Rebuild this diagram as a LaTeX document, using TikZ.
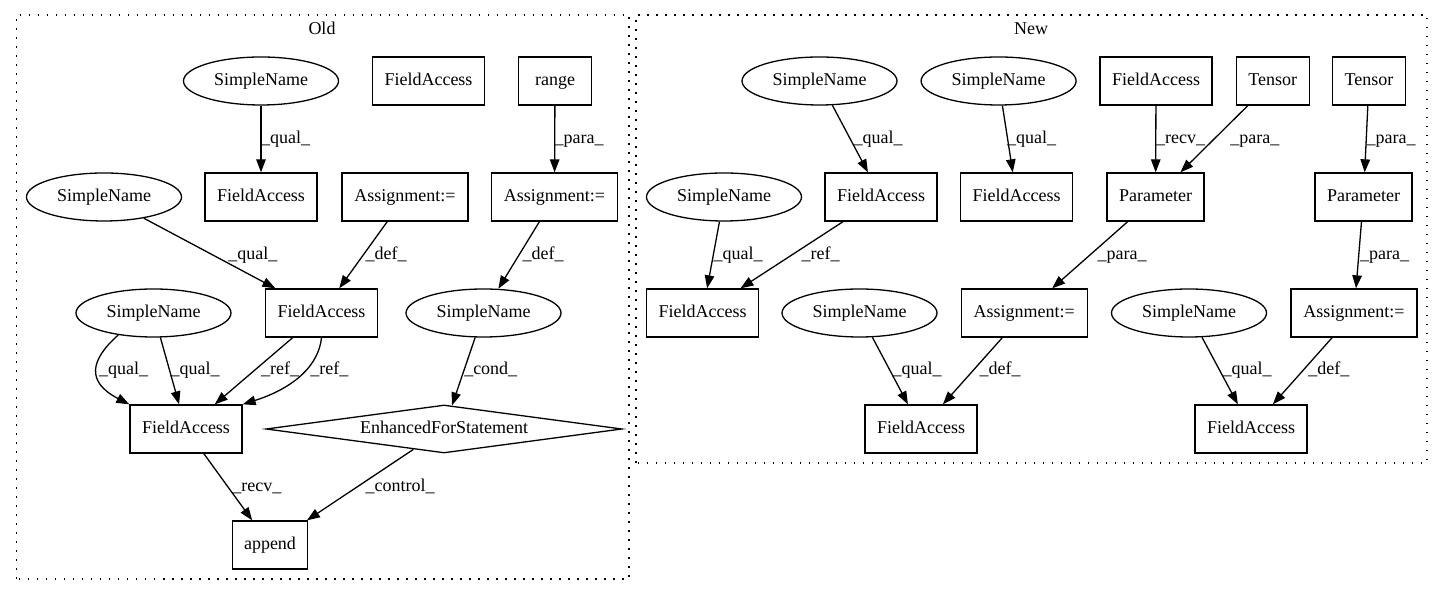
\documentclass[tikz,border=0pt]{standalone}
\usepackage{fontspec}
\setmainfont{Liberation Serif}
\usetikzlibrary{arrows.meta, shapes.geometric}

\tikzset{
  every node/.style={font=\fontsize{18}{21}\selectfont, text height=14pt, text depth=4pt, inner sep=0pt},
  box/.style={draw, line width=1.3pt, rectangle, minimum height=48pt},
  fa/.style={box, minimum width=112pt},
  asg/.style={box, minimum width=126pt},
  sname/.style={draw, line width=1.3pt, ellipse, minimum width=155pt, minimum height=48pt},
  loopcond/.style={draw, line width=1.3pt, diamond, aspect=7.4, minimum width=356pt, minimum height=48pt},
  dep/.style={line width=1.3pt, -{Triangle[length=13pt, width=9.5pt]}},
  lbl/.style={anchor=west},
  cluster/.style={line width=1.3pt, dash pattern=on 1.5pt off 7.5pt},
}

\begin{document}
\begin{tikzpicture}[x=1pt, y=1pt]
    \useasboundingbox (0,0) rectangle (1440,596);

    % clusters
    \draw[cluster] (16.5,17) rectangle (629,581);
    \node (old) at (322,566) {Old};
    \draw[cluster] (636,133) rectangle (1427,581);
    \node (new) at (1031,566) {New};

    % Old
    \node[sname] (sn1) at (261,515) {SimpleName};
    \node[fa] (fa1) at (428.5,515) {FieldAccess};
    \node[box, minimum width=73pt] (range) at (555,515) {range};
    \node[sname] (sn2) at (104,399) {SimpleName};
    \node[fa] (fa2) at (261,399) {FieldAccess};
    \node[asg] (as1) at (405,399) {Assignment:=};
    \node[asg] (as2) at (554.5,399) {Assignment:=};
    \node[sname] (sn3) at (153.5,283) {SimpleName};
    \node[fa] (fa3) at (321.5,283) {FieldAccess};
    \node[sname] (sn4) at (483.5,283) {SimpleName};
    \node[fa] (fa4) at (186,167) {FieldAccess};
    \node[loopcond] (efs) at (444,167) {EnhancedForStatement};
    \node[box, minimum width=75pt] (append) at (270,51) {append};

    \draw[dep] (sn1) -- (fa2) node[lbl] at (260.5,457) {\_qual\_};
    \draw[dep] (range) -- (as2) node[lbl] at (554,457) {\_para\_};
    \draw[dep] (sn2) -- (fa3) node[lbl] at (227.7,341) {\_qual\_};
    \draw[dep] (as1) -- (fa3) node[lbl] at (365,341) {\_def\_};
    \draw[dep] (as2) -- (sn4) node[lbl] at (522,341) {\_def\_};
    \draw[dep] (sn3.212) .. controls (90,236) and (86,214) .. (fa4.north west) node[lbl] at (98.5,226) {\_qual\_};
    \draw[dep] (sn3) -- (fa4) node[lbl] at (170,226) {\_qual\_};
    \draw[dep] (fa3) -- (fa4) node[lbl] at (260.5,226) {\_ref\_};
    \draw[dep] (fa3.south) .. controls (318,225) and (285,205) .. (fa4.north east) node[lbl] at (309.7,226) {\_ref\_};
    \draw[dep] (sn4) -- (efs) node[lbl] at (463.6,226) {\_cond\_};
    \draw[dep] (fa4) -- (append) node[lbl] at (231.8,109) {\_recv\_};
    \draw[dep] (efs) -- (append) node[lbl] at (365,109) {\_control\_};

    % New
    \node[sname] (sn5) at (819.5,515) {SimpleName};
    \node[sname] (sn6) at (998.6,515) {SimpleName};
    \node[fa] (fa5) at (1156,515) {FieldAccess};
    \node[box, minimum width=73pt] (t1) at (1272.7,515) {Tensor};
    \node[box, minimum width=73pt] (t2) at (1369,515) {Tensor};
    \node[sname] (sn7) at (724,399) {SimpleName};
    \node[fa] (fa6) at (881,399) {FieldAccess};
    \node[fa] (fa7) at (1016.6,399) {FieldAccess};
    \node[box, minimum width=97pt] (p1) at (1155.6,399) {Parameter};
    \node[box, minimum width=97pt] (p2) at (1363.5,399) {Parameter};
    \node[fa] (fa8) at (702.6,283) {FieldAccess};
    \node[sname] (sn8) at (859.5,283) {SimpleName};
    \node[asg] (as3) at (1024.3,283) {Assignment:=};
    \node[sname] (sn9) at (1189,283) {SimpleName};
    \node[asg] (as4) at (1354,283) {Assignment:=};
    \node[fa] (fa9) at (921,167) {FieldAccess};
    \node[fa] (fa10) at (1251,167) {FieldAccess};

    \draw[dep] (sn5) -- (fa6) node[lbl] at (853,457) {\_qual\_};
    \draw[dep] (sn6) -- (fa7) node[lbl] at (1006.4,457) {\_qual\_};
    \draw[dep] (fa5) -- (p1) node[lbl] at (1155.5,457) {\_recv\_};
    \draw[dep] (t1) -- (p1) node[lbl] at (1229.7,457) {\_para\_};
    \draw[dep] (t2) -- (p2) node[lbl] at (1366,457) {\_para\_};
    \draw[dep] (sn7) -- (fa8) node[lbl] at (713,341) {\_qual\_};
    \draw[dep] (fa6) -- (fa8) node[lbl] at (801,341) {\_ref\_};
    \draw[dep] (p1) -- (as3) node[lbl] at (1097,341) {\_para\_};
    \draw[dep] (p2) -- (as4) node[lbl] at (1359.5,341) {\_para\_};
    \draw[dep] (sn8) -- (fa9) node[lbl] at (892,226) {\_qual\_};
    \draw[dep] (as3) -- (fa9) node[lbl] at (979,226) {\_def\_};
    \draw[dep] (sn9) -- (fa10) node[lbl] at (1222,226) {\_qual\_};
    \draw[dep] (as4) -- (fa10) node[lbl] at (1307.6,226) {\_def\_};
\end{tikzpicture}
\end{document}
